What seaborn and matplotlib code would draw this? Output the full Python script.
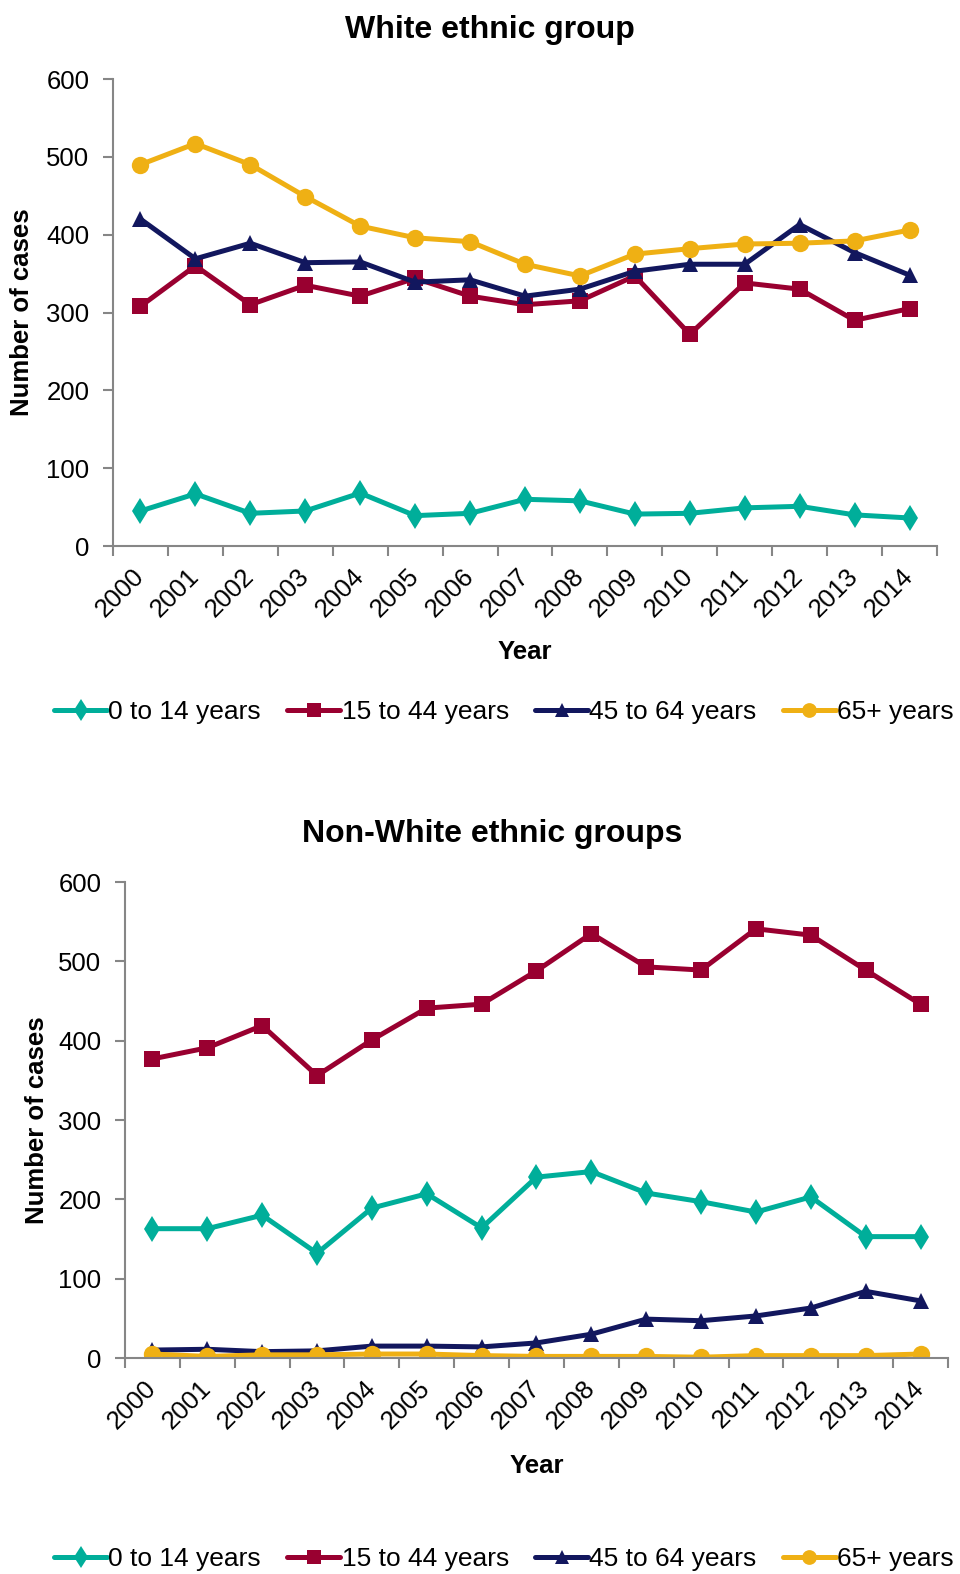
import numpy as np
import pandas as pd
import matplotlib
matplotlib.use("Agg")
import matplotlib.pyplot as plt
import seaborn as sns
from matplotlib.lines import Line2D

# ---- data -------------------------------------------------------------
years = list(range(2000, 2015))
groups = ["0 to 14 years", "15 to 44 years", "45 to 64 years", "65+ years"]

white_0_14 = [45, 67, 42, 45, 68, 39, 42, 60, 58, 41, 42, 49, 51, 40, 36]
white_15_44 = [308, 360, 310, 335, 321, 344, 321, 310, 315, 347, 272, 338, 330, 290, 305]
white_45_64 = [420, 369, 389, 364, 365, 339, 342, 321, 330, 353, 362, 362, 413, 377, 348]
white_65p = [490, 517, 490, 449, 411, 396, 391, 362, 347, 375, 382, 388, 389, 392, 406]

nonwhite_0_14 = [163, 163, 180, 132, 189, 207, 164, 228, 235, 208, 197, 184, 203, 153, 153]
nonwhite_15_44 = [377, 391, 419, 356, 401, 441, 446, 488, 535, 493, 489, 541, 533, 489, 446]
nonwhite_45_64 = [10, 11, 8, 9, 15, 15, 14, 19, 30, 49, 47, 53, 63, 84, 72]
nonwhite_65p = [5, 2, 4, 4, 5, 5, 3, 2, 2, 2, 1, 3, 3, 3, 5]

panel_titles = ["White ethnic group", "Non-White ethnic groups"]
y_ticks = [0, 100, 200, 300, 400, 500, 600]

# ---- styling ------------------------------------------------------------
colors = {"0 to 14 years": "#00AE9A", "15 to 44 years": "#990030",
          "45 to 64 years": "#12175E", "65+ years": "#EFB014"}
markers = {"0 to 14 years": "d", "15 to 44 years": "s",
           "45 to 64 years": "^", "65+ years": "o"}
msizes = {"0 to 14 years": 13.5, "15 to 44 years": 11.5,
          "45 to 64 years": 12, "65+ years": 12.5}

sns.set_theme(style="white")
plt.rcParams["font.family"] = ["Liberation Sans", "DejaVu Sans"]
plt.rcParams["text.color"] = "black"
plt.rcParams["xtick.color"] = "black"
plt.rcParams["ytick.color"] = "black"
spine_col = "#868686"


def long_frame(series):
    rows = []
    for g, vals in zip(groups, series):
        for y, v in zip(years, vals):
            rows.append({"Year": y, "Group": g, "Cases": v})
    return pd.DataFrame(rows)


frames = [
    long_frame([white_0_14, white_15_44, white_45_64, white_65p]),
    long_frame([nonwhite_0_14, nonwhite_15_44, nonwhite_45_64, nonwhite_65p]),
]

fig = plt.figure(figsize=(9.6, 15.74), dpi=100)
W, H = 960, 1574

# axes boxes in pixel coordinates (left, top, right, bottom)
boxes = [(113, 79, 937, 546), (125, 882, 948, 1358)]
title_pos = [(490, 30), (492, 834)]
ylabel_pos = [(22, 312), (37, 1120)]
xlabel_pos = [(525, 652), (537, 1466)]
legend_pos = [(504, 712), (504, 1559)]

for i, df in enumerate(frames):
    l, t, r, b = boxes[i]
    ax = fig.add_axes([l / W, 1 - b / H, (r - l) / W, (b - t) / H])
    sns.lineplot(data=df, x="Year", y="Cases", hue="Group", style="Group",
                 hue_order=groups, style_order=groups, palette=colors,
                 markers=markers, dashes=False, linewidth=3.6,
                 markeredgewidth=0, legend=False, ax=ax)
    for line, g in zip(ax.lines, groups):
        line.set_markersize(msizes[g])
        line.set_markerfacecolor(colors[g])
        line.set_markeredgecolor(colors[g])

    ax.set_xlim(years[0] - 0.5, years[-1] + 0.5)
    ax.set_ylim(0, 600)
    ax.set_yticks(y_ticks)
    ax.set_yticklabels([str(v) for v in y_ticks], fontsize=18.5, color="black")
    # boundary ticks between categories, labels at category centres
    ax.set_xticks(np.arange(years[0] - 0.5, years[-1] + 1, 1))
    ax.set_xticklabels([])
    ax.set_xticks(years, minor=True)
    ax.set_xticklabels([str(y) for y in years], minor=True, fontsize=18.5,
                       rotation=45, ha="right", va="center",
                       rotation_mode="anchor", color="black")
    ax.tick_params(axis="x", which="major", direction="out", length=7,
                   width=1.5, color=spine_col, bottom=True)
    ax.tick_params(axis="x", which="minor", length=0, pad=19, bottom=True)
    ax.tick_params(axis="y", direction="out", length=7, width=1.5,
                   color=spine_col, left=True, pad=10)
    for side in ["top", "right"]:
        ax.spines[side].set_visible(False)
    for side in ["left", "bottom"]:
        ax.spines[side].set_color(spine_col)
        ax.spines[side].set_linewidth(1.5)
    ax.set_xlabel("")
    ax.set_ylabel("")

    tx, ty = title_pos[i]
    fig.text(tx / W, 1 - ty / H, panel_titles[i], ha="center", va="center",
             fontsize=23, fontweight="bold")
    yx, yy = ylabel_pos[i]
    fig.text(yx / W, 1 - yy / H, "Number of cases", ha="center", va="center",
             rotation=90, fontsize=18.5, fontweight="bold")
    xx, xy = xlabel_pos[i]
    fig.text(xx / W, 1 - xy / H, "Year", ha="center", va="center",
             fontsize=18.5, fontweight="bold")

    handles = [Line2D([0], [0], color=colors[g], lw=3.6, marker=markers[g],
                      markersize=msizes[g] * 0.85, markeredgewidth=0)
               for g in groups]
    lx, ly = legend_pos[i]
    fig.legend(handles, groups, loc="center", bbox_to_anchor=(lx / W, 1 - ly / H),
               ncol=4, frameon=False, fontsize=19, handlelength=2.0,
               handletextpad=0.05, columnspacing=1.0, borderaxespad=0)

fig.savefig("out.png", dpi=100)
